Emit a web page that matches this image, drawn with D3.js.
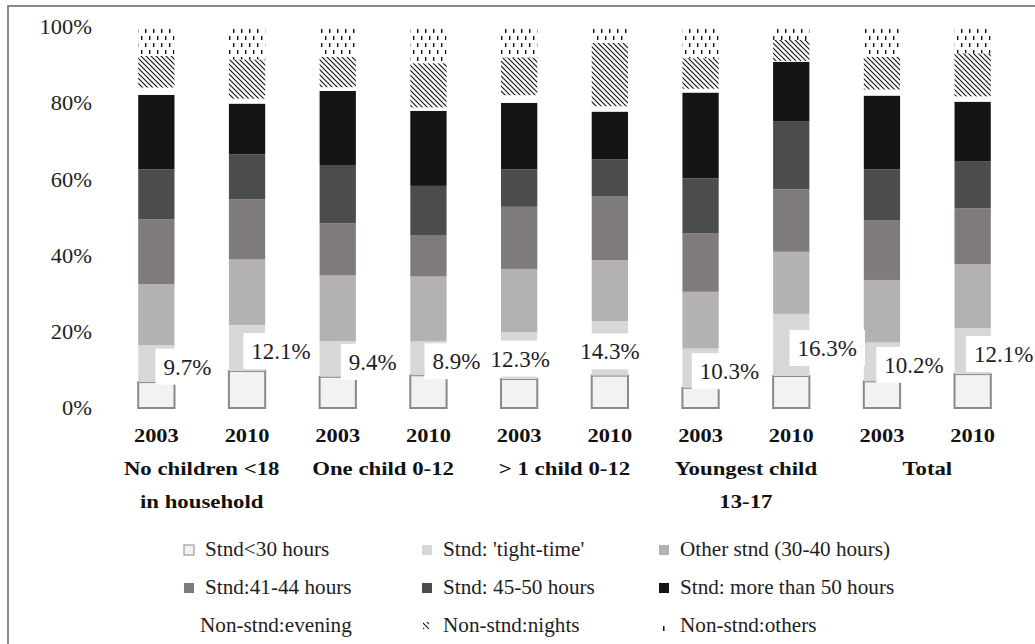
<!DOCTYPE html>
<html><head><meta charset="utf-8">
<script src="https://cdn.jsdelivr.net/npm/d3@7"></script>
<style>body{margin:0;background:#fff;} svg{display:block;}</style>
</head><body><svg id="c" width="1035" height="644" style="font-family:'Liberation Serif'"></svg>
<script>
// ---------- data ----------
const years = ["2003","2010","2003","2010","2003","2010","2003","2010","2003","2010"];
const groups = [["No children <18","in household"],["One child 0-12"],["> 1 child 0-12"],["Youngest child","13-17"],["Total"]];
const seriesNames = ["Stnd<30 hours","Stnd: 'tight-time'","Other stnd (30-40 hours)","Stnd:41-44 hours","Stnd: 45-50 hours","Stnd: more than 50 hours","Non-stnd:evening","Non-stnd:nights","Non-stnd:others"];
const stnd30    = [6.8, 9.7, 8.2, 8.6, 7.6, 8.5, 5.3, 8.4, 7.0, 8.9];
const tightTime = [9.7,12.1, 9.4, 8.9,12.3,14.3,10.3,16.3,10.2,12.1];
const otherStnd = [16.0,17.2,17.2,17.0,16.6,16.0,14.9,16.3,16.4,16.8];
const stnd41    = [17.0,15.8,13.7,10.9,16.3,16.7,15.3,16.4,15.6,14.6];
const stnd45    = [13.1,11.8,15.1,12.9, 9.8, 9.8,14.5,17.9,13.4,12.4];
const stnd50    = [19.6,13.3,19.6,19.7,17.5,12.5,22.5,15.6,19.4,15.6];
const evening   = [1.9, 1.3, 1.0, 0.9, 2.0, 1.4, 1.0, 0.2, 1.6, 1.4];
const nights    = [8.3,10.3, 8.0,11.6, 9.9,16.6, 8.0, 5.5, 8.6,11.3];
const others    = [7.6, 8.5, 7.8, 9.5, 8.0, 4.2, 8.2, 3.4, 7.8, 6.9];
const yTicks = [0,20,40,60,80,100];

// ---------- layout / style ----------
const labelDx = [31,34,35,28,1,0,29,36,32,31];
const fills = ["#f2f2f4","#d8d6d7","#b3b1b2","#7f7b7a","#4b4d4c","#141615","#ffffff","url(#pNights)","url(#pOthers)"];
const FONT = "Liberation Serif";

const seriesArrays = [stnd30,tightTime,otherStnd,stnd41,stnd45,stnd50,evening,nights,others];
const table = years.map((yr,i)=>{ const o={i}; seriesArrays.forEach((a,k)=>o[k]=a[i]); return o; });
const keys = seriesArrays.map((_,k)=>k);
const stacked = d3.stack().keys(keys)(table);

const svg = d3.select("#c");
const defs = svg.append("defs");
const pn = defs.append("pattern").attr("id","pNights").attr("patternUnits","userSpaceOnUse").attr("width",5).attr("height",5);
pn.append("rect").attr("width",5).attr("height",5).attr("fill","#fff");
pn.append("path").attr("d","M0,0 L5,5 M-1,4 L1,6 M4,-1 L6,1").attr("stroke","#111").attr("stroke-width",1.1);
const po = defs.append("pattern").attr("id","pOthers").attr("patternUnits","userSpaceOnUse").attr("width",8).attr("height",14);
po.append("rect").attr("width",8).attr("height",14).attr("fill","#fff");
po.append("rect").attr("x",1).attr("y",1).attr("width",1.4).attr("height",4).attr("fill","#111");
po.append("rect").attr("x",5).attr("y",8).attr("width",1.4).attr("height",4).attr("fill","#111");

// frame
svg.append("rect").attr("x",8).attr("y",6).attr("width",1040).attr("height",660)
  .attr("fill","none").attr("stroke","#6e6e6e").attr("stroke-width",1.6);

const x = d3.scaleBand().domain(d3.range(years.length)).range([111,1018]).paddingInner(0.6).paddingOuter(0.3);
const y = d3.scaleLinear().domain([0,100]).range([408,27]);
const bw = x.bandwidth();

// y axis
const ya = svg.append("g").attr("transform","translate(92,0)")
  .call(d3.axisLeft(y).tickValues(yTicks).tickFormat(d=>d+"%").tickSize(0).tickPadding(0))
  .attr("font-family",FONT);
ya.select(".domain").remove();
ya.selectAll("text").attr("font-family",FONT).attr("font-size",21).attr("fill","#1e1e1e")
  .attr("transform","scale(1.07,1)");

// bars
const layers = svg.append("g").selectAll("g").data(stacked).join("g")
  .attr("fill",(d,k)=>fills[k]);
layers.selectAll("rect").data(d=>d).join("rect")
  .attr("x",(d,i)=>x(i)).attr("width",bw)
  .attr("y",d=>y(d[1])).attr("height",d=>y(d[0])-y(d[1]));
layers.filter((d,k)=>k===0).selectAll("rect").attr("stroke","#8a8a8a").attr("stroke-width",2);

// data labels (tight-time)
const lab = svg.append("g");
stacked[1].forEach((d,i)=>{
  const cx = x(i)+bw/2+labelDx[i];
  const cy = y((d[0]+d[1])/2)+3;
  const g = lab.append("g").attr("transform",`translate(${cx},${cy})`);
  const r = g.append("rect").attr("fill","#fff");
  const t = g.append("text").attr("text-anchor","middle").attr("dy","0.35em")
    .attr("font-family",FONT).attr("font-size",23).attr("fill","#1e1e1e")
    .text(tightTime[i].toFixed(1)+"%");
  const b = t.node().getBBox();
  r.attr("x",b.x-8).attr("y",-18).attr("width",b.width+16).attr("height",36);
});

// x axis (years)
const xa = svg.append("g").attr("transform","translate(0,428)")
  .call(d3.axisBottom(x).tickFormat(i=>years[i]).tickSize(0).tickPadding(0))
  .attr("font-family",FONT);
xa.select(".domain").remove();
xa.selectAll("text").attr("font-family",FONT).attr("font-size",19).attr("font-weight","bold")
  .attr("fill","#111").attr("dy","0.71em").attr("transform","scale(1.18,1)");

// group labels
groups.forEach((lines,gi)=>{
  const cx = (x(gi*2)+x(gi*2+1)+bw)/2;
  const t = svg.append("text").attr("transform",`translate(${cx},475) scale(1.2,1)`)
    .attr("text-anchor","middle").attr("font-family",FONT).attr("font-size",19)
    .attr("font-weight","bold").attr("fill","#111");
  lines.forEach((ln,li)=>t.append("tspan").attr("x",0).attr("y",li*33).text(ln));
});

// legend
const colX = [184,422,659], rowY = [556,594,632];
const leg = svg.append("g");
seriesNames.forEach((name,k)=>{
  const cx = colX[k%3], by = rowY[Math.floor(k/3)];
  if (k<6) {
    leg.append("rect").attr("x",cx).attr("y",by-11).attr("width",10).attr("height",10)
      .attr("fill",fills[k]).attr("stroke",k===0?"#8a8a8a":"none").attr("stroke-width",1);
  } else if (k===7) {
    leg.append("rect").attr("x",cx+1).attr("y",by-10).attr("width",6).attr("height",7)
      .attr("fill",fills[k]);
  } else if (k===8) {
    leg.append("rect").attr("x",cx+4).attr("y",by-6).attr("width",1.5).attr("height",5).attr("fill","#111");
  }
  leg.append("text").attr("transform",`translate(${cx+(k===6?16:21)},${by}) scale(1.06,1)`)
    .attr("font-family",FONT).attr("font-size",20).attr("fill","#1e1e1e").text(name);
});
</script></body></html>
